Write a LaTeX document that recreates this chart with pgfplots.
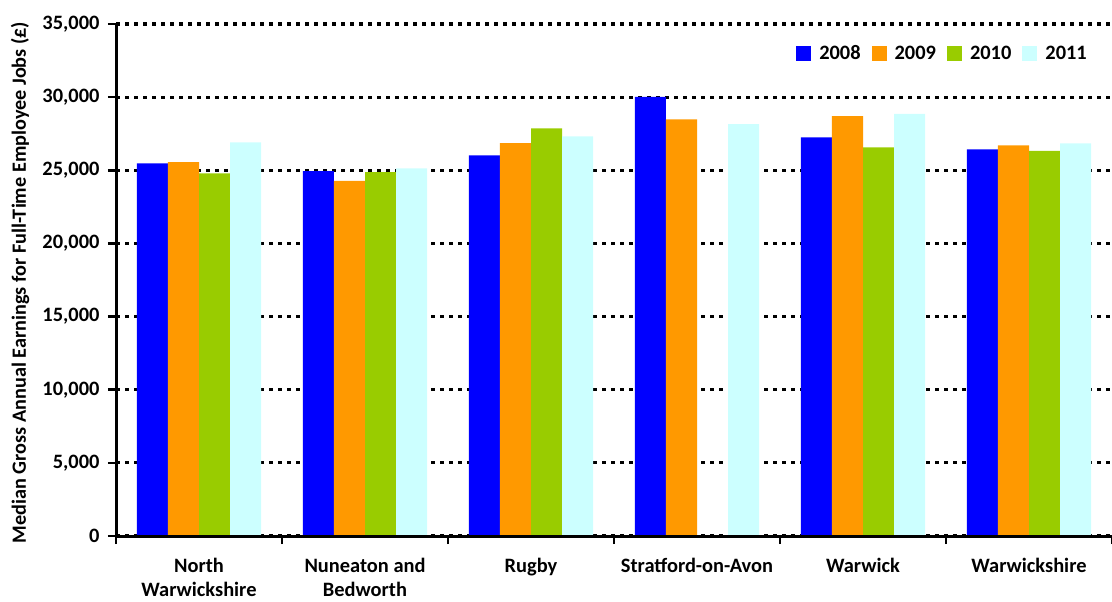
\documentclass[border=0pt]{standalone}
\usepackage{pgfplots}
\pgfplotsset{compat=1.18}
\usepackage{fontspec}
\setmainfont{Carlito}
\definecolor{c08}{HTML}{0000FF}
\definecolor{c09}{HTML}{FF9900}
\definecolor{c10}{HTML}{99CC00}
\definecolor{c11}{HTML}{CCFFFF}
\begin{document}
\begin{tikzpicture}
\begin{axis}[
  scale only axis,
  width=996bp, height=512bp,
  ybar=0pt, bar width=0.187,
  xmin=-0.5, xmax=5.5,
  ymin=0, ymax=35000,
  ytick={0,5000,...,35000},
  scaled y ticks=false,
  /pgf/number format/.cd, fixed, 1000 sep={,}, assume math mode=true,
  /pgfplots/.cd,
  xtick={0,1,2,3,4,5},
  xticklabels={North\\Warwickshire, Nuneaton and\\Bedworth, Rugby, Stratford-on-Avon, Warwick, Warwickshire},
  minor xtick={-0.5,0.5,1.5,2.5,3.5,4.5,5.5},
  major x tick style={draw=none},
  minor tick length=8bp,
  major tick length=8bp,
  tick align=outside,
  tick style={black, line width=2.5bp},
  axis x line*=bottom,
  axis y line*=left,
  axis line style={black, line width=3bp},
  ymajorgrids,
  major grid style={black, line width=3.2bp, dash pattern=on 4bp off 5bp},
  tick label style={font=\fontsize{20.5}{24}\selectfont\bfseries},
  xticklabel style={align=center, yshift=-11bp},
  yticklabel style={xshift=-5bp},
  legend columns=4,
  legend style={draw=none, fill=white, at={(rel axis cs:1,0.942)}, anchor=east, xshift=-20bp,
    font=\fontsize{20.5}{22}\selectfont\bfseries,
    /tikz/every odd column/.append style={column sep=6bp},
    /tikz/every even column/.append style={column sep=9bp}},
  legend image code/.code={\fill[#1] (0bp,-7bp) rectangle (15bp,8bp);},
]
\addplot[fill=c08, draw=none] coordinates {(0,25480) (1,24950) (2,26020) (3,30010) (4,27250) (5,26430)};
\addplot[fill=c09, draw=none] coordinates {(0,25560) (1,24270) (2,26860) (3,28480) (4,28710) (5,26710)};
\addplot[fill=c10, draw=none] coordinates {(0,24790) (1,24880) (2,27870) (4,26570) (5,26320)};
\addplot[fill=c11, draw=none] coordinates {(0,26910) (1,25130) (2,27320) (3,28160) (4,28850) (5,26840)};
\legend{2008,2009,2010,2011}
\draw[black, line width=3bp] (rel axis cs:0,0) -- (rel axis cs:1,0);
\coordinate (bl) at (rel axis cs:0,0);
\coordinate (tr) at (rel axis cs:1,1);
\coordinate (ml) at (rel axis cs:0,0.495);
\end{axis}
\node[rotate=90, anchor=center, font=\fontsize{20.3}{22}\selectfont\bfseries] at ([xshift=-96bp]ml) {Median Gross Annual Earnings for Full-Time Employee Jobs (£)};
\pgfresetboundingbox
\path ([shift={(-116bp,-65bp)}]bl) rectangle ([shift={(0bp,24bp)}]tr);
\end{tikzpicture}
\end{document}
